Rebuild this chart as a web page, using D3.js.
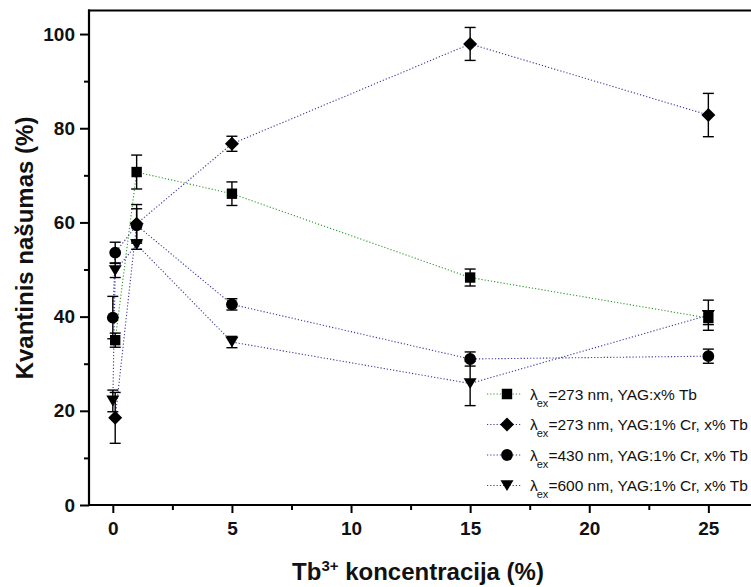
<!DOCTYPE html>
<html><head><meta charset="utf-8">
<script src="https://cdn.jsdelivr.net/npm/d3@7"></script>
<style>
html,body{margin:0;padding:0;background:#fff;}
svg{display:block;font-family:"Liberation Sans",Arial,sans-serif;}
</style></head>
<body><svg id="c" width="751" height="587"></svg>
<script>
// ---- data ----
const xTickValues = [0, 5, 10, 15, 20, 25];
const yTickValues = [0, 20, 40, 60, 80, 100];
const xSquare   = [0.1, 1, 5, 15, 25];
const ySquare   = [35.0, 70.7, 66.1, 48.3, 39.7];
const eSquare   = [1.5, 3.6, 2.5, 1.8, 1.4];
const xDiamond  = [0.1, 1, 5, 15, 25];
const yDiamond  = [18.5, 59.7, 76.7, 97.9, 82.8];
const eDiamond  = [5.4, 4.1, 1.6, 3.5, 4.6];
const xCircle   = [0, 0.1, 1, 5, 15, 25];
const yCircle   = [39.8, 53.6, 59.4, 42.6, 31.0, 31.6];
const eCircle   = [4.5, 2.2, 3.5, 1.2, 1.5, 1.5];
const xTriangle = [0, 0.1, 1, 5, 15, 25];
const yTriangle = [22.1, 49.8, 55.3, 34.6, 25.8, 40.3];
const eTriangle = [2.3, 1.5, 1.0, 1.2, 4.7, 3.2];
const legendNames = ["=273 nm, YAG:x% Tb", "=273 nm, YAG:1% Cr, x% Tb", "=430 nm, YAG:1% Cr, x% Tb", "=600 nm, YAG:1% Cr, x% Tb"];

const series = [
  {x:xSquare, y:ySquare, e:eSquare, shape:"square", color:"#2a9a2a", name:legendNames[0]},
  {x:xDiamond, y:yDiamond, e:eDiamond, shape:"diamond", color:"#3838a0", name:legendNames[1]},
  {x:xCircle, y:yCircle, e:eCircle, shape:"circle", color:"#3838a0", name:legendNames[2]},
  {x:xTriangle, y:yTriangle, e:eTriangle, shape:"triangle", color:"#3838a0", name:legendNames[3]}
];

const svg = d3.select("#c");
const L = 89, T = 10.5, B = 505, R = 756;
const x = d3.scaleLinear().domain([-1, 27]).range([L, R]);
const y = d3.scaleLinear().domain([0, 105]).range([B, T]);

function shapePath(shape, cx, cy) {
  const p = d3.path();
  if (shape === "square") { p.rect(cx-5.2, cy-5.2, 10.4, 10.4); }
  else if (shape === "diamond") { p.moveTo(cx, cy-7); p.lineTo(cx+7, cy); p.lineTo(cx, cy+7); p.lineTo(cx-7, cy); p.closePath(); }
  else if (shape === "circle") { p.arc(cx, cy, 5.9, 0, 2*Math.PI); }
  else { p.moveTo(cx-6.5, cy-5.3); p.lineTo(cx+6.5, cy-5.3); p.lineTo(cx, cy+5.5); p.closePath(); }
  return p.toString();
}

// axes
const gx = svg.append("g").attr("transform", `translate(0,${B})`)
  .call(d3.axisBottom(x).tickValues(xTickValues).tickSize(8).tickPadding(9).tickFormat(d3.format("d")));
const gxm = svg.append("g").attr("transform", `translate(0,${B})`)
  .call(d3.axisBottom(x).tickValues([2.5,7.5,12.5,17.5,22.5]).tickSize(5).tickFormat(""));
const gy = svg.append("g").attr("transform", `translate(${L},0)`)
  .call(d3.axisLeft(y).tickValues(yTickValues).tickSize(9).tickPadding(5).tickFormat(d3.format("d")));
const gym = svg.append("g").attr("transform", `translate(${L},0)`)
  .call(d3.axisLeft(y).tickValues([10,30,50,70,90]).tickSize(5).tickFormat(""));
[gx,gxm,gy,gym].forEach(g => {
  g.select(".domain").remove();
  g.selectAll(".tick line").attr("stroke","#000").attr("stroke-width",2);
  g.selectAll(".tick text").attr("fill","#111").attr("font-size",19).attr("font-weight","bold");
});
// frame lines
svg.append("line").attr("x1",L).attr("x2",L).attr("y1",T-1).attr("y2",B+1).attr("stroke","#000").attr("stroke-width",2.2);
svg.append("line").attr("x1",L-1).attr("x2",R).attr("y1",B).attr("y2",B).attr("stroke","#000").attr("stroke-width",2.2);
svg.append("line").attr("x1",L-1).attr("x2",R).attr("y1",T).attr("y2",T).attr("stroke","#000").attr("stroke-width",2.2);

// titles
svg.append("text").attr("x",418).attr("y",580).attr("text-anchor","middle")
  .attr("font-size",24).attr("font-weight","bold").attr("fill","#111")
  .call(t => { t.append("tspan").text("Tb"); t.append("tspan").attr("dy",-9).attr("font-size",15).text("3+");
               t.append("tspan").attr("dy",9).text(" koncentracija (%)"); });
svg.append("text").attr("transform","translate(33,248) rotate(-90)").attr("text-anchor","middle")
  .attr("font-size",24).attr("font-weight","bold").attr("fill","#111").text("Kvantinis našumas (%)");

// lines
const line = d3.line().x(d => x(d[0])).y(d => y(d[1]));
series.forEach(s => {
  const pts = s.x.map((v,i) => [v, s.y[i]]);
  svg.append("path").attr("d", line(pts)).attr("fill","none").attr("stroke",s.color)
    .attr("stroke-width",1.1).attr("stroke-dasharray","1.2,2");
});
// error bars + markers
series.forEach(s => {
  const g = svg.append("g");
  s.x.forEach((v,i) => {
    const cx = x(v), y1 = y(s.y[i]+s.e[i]), y2 = y(s.y[i]-s.e[i]);
    g.append("line").attr("x1",cx).attr("x2",cx).attr("y1",y1).attr("y2",y2).attr("stroke","#000").attr("stroke-width",1.4);
    g.append("line").attr("x1",cx-5.5).attr("x2",cx+5.5).attr("y1",y1).attr("y2",y1).attr("stroke","#000").attr("stroke-width",1.4);
    g.append("line").attr("x1",cx-5.5).attr("x2",cx+5.5).attr("y1",y2).attr("y2",y2).attr("stroke","#000").attr("stroke-width",1.4);
  });
  s.x.forEach((v,i) => {
    g.append("path").attr("d", shapePath(s.shape, x(v), y(s.y[i]))).attr("fill","#000");
  });
});

// legend
const legY0 = 394, legStep = 30.5;
series.forEach((s,i) => {
  const ly = legY0 + i*legStep;
  svg.append("line").attr("x1",487).attr("x2",521).attr("y1",ly).attr("y2",ly)
    .attr("stroke",s.color).attr("stroke-width",1.1).attr("stroke-dasharray","1.2,2");
  svg.append("path").attr("d", shapePath(s.shape, 507, ly)).attr("fill","#000");
  const t = svg.append("text").attr("x",530).attr("y",ly+5.5).attr("font-size",15.5).attr("fill","#111");
  t.append("tspan").text("λ");
  t.append("tspan").attr("dy",7).attr("dx",-1).attr("font-size",11).text("ex");
  t.append("tspan").attr("dy",-7).text(s.name);
});
</script></body></html>
